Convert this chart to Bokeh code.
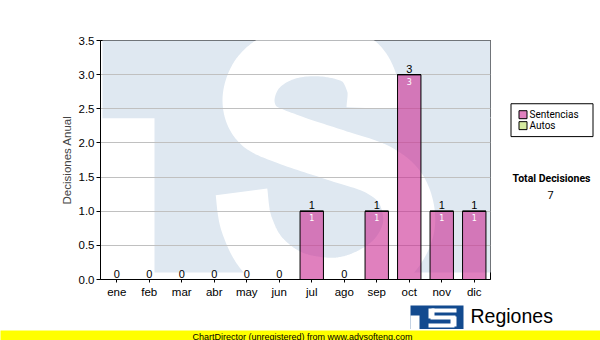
import numpy as np
from bokeh.plotting import figure
from bokeh.models import FactorRange, Range1d, FixedTicker, PrintfTickFormatter
from bokeh.layouts import column, row
from bokeh.embed import file_html
from bokeh.resources import INLINE
from bokeh.core.properties import value

# ---------------- data ----------------
months = ["ene", "feb", "mar", "abr", "may", "jun", "jul", "ago", "sep", "oct", "nov", "dic"]
sentencias = [0, 0, 0, 0, 0, 0, 1, 0, 1, 3, 1, 1]
autos = [0, 0, 0, 0, 0, 0, 0, 0, 0, 0, 0, 0]
y_ticks = [0.0, 0.5, 1.0, 1.5, 2.0, 2.5, 3.0, 3.5]
series_names = ["Sentencias", "Autos"]
y_title = "Decisiones Anual"
total_title = "Total Decisiones"
footer_text = "ChartDirector (unregistered) from www.advsofteng.com"
brand_text = "Regiones"

totals = [s + a for s, a in zip(sentencias, autos)]
grand_total = sum(totals)

# ---------------- styles ----------------
PINK = "#cb2b93"
GREEN = "#d6eba0"
WM = "#dfe8f1"
LOGO = "#124a8f"
AX_FONT = "Liberation Sans"
UI_FONT = "Roboto"

FL, FR, FT, FB = 100, 490, 40, 280
YMAX = y_ticks[-1]


def bare(width, height, x0, x1, y0, y1, bg="white"):
    f = figure(width=width, height=height, output_backend="svg", toolbar_location=None,
               x_range=Range1d(x0, x1), y_range=Range1d(y0, y1), min_border=0,
               x_axis_location=None, y_axis_location=None)
    f.background_fill_color = bg
    f.border_fill_color = bg
    f.outline_line_color = None
    f.xgrid.visible = False
    f.ygrid.visible = False
    return f


# ---------------- main chart ----------------
p = figure(x_range=FactorRange(factors=months), y_range=Range1d(0, YMAX),
           width=FR + 1, height=300, output_backend="svg", toolbar_location=None,
           min_border_left=FL, min_border_right=1,
           min_border_top=FT, min_border_bottom=300 - FB)
p.background_fill_color = "white"
p.border_fill_color = "white"
p.outline_line_color = "black"
p.outline_line_width = 1


def X(px):
    return (px - FL) / (FR - FL) * len(months)


def Y(py):
    return (FB - py) / (FB - FT) * YMAX


# watermark logo behind the plot
p.quad(left=[X(102)], right=[X(496)], top=[Y(34)], bottom=[Y(118)],
       fill_color=WM, line_color=None, level="image")
p.quad(left=[X(154)], right=[X(496)], top=[Y(117)], bottom=[Y(273)],
       fill_color=WM, line_color=None, level="image")

spine = [(372, 108), (372, 85), (357, 60), (322, 50), (285, 54), (258, 72), (248, 100),
         (258, 125), (290, 140), (335, 155), (378, 170), (402, 192), (408, 228),
         (388, 262), (345, 283), (297, 279), (263, 256), (246, 224), (241, 192)]


def catmull(pts, n=14):
    out = []
    for i in range(len(pts) - 1):
        p0 = np.array(pts[max(i - 1, 0)], float)
        p1 = np.array(pts[i], float)
        p2 = np.array(pts[i + 1], float)
        p3 = np.array(pts[min(i + 2, len(pts) - 1)], float)
        for t in np.linspace(0, 1, n, endpoint=False):
            t2, t3 = t * t, t * t * t
            pt = 0.5 * ((2 * p1) + (-p0 + p2) * t + (2 * p0 - 5 * p1 + 4 * p2 - p3) * t2
                        + (-p0 + 3 * p1 - 3 * p2 + p3) * t3)
            out.append(pt)
    out.append(np.array(pts[-1], float))
    return out


curve = catmull(spine)
p.line([X(c[0]) for c in curve], [Y(c[1]) for c in curve], line_width=52,
       line_color="white", line_cap="butt", line_join="round", level="image")

# bars
bars = p.vbar(x=months, top=sentencias, width=0.72, fill_color=PINK, fill_alpha=0.6,
              line_color="black", line_width=1)
autos_r = p.vbar(x=months, bottom=sentencias, top=totals, width=0.72, fill_color=GREEN,
                 line_color="black", line_width=1)

p.text(x=months, y=totals, text=[str(v) for v in totals], text_align="center",
       text_baseline="bottom", y_offset=-2, text_font=value(AX_FONT),
       text_font_size="11px", text_color="black")

inner_x = [m for m, s in zip(months, sentencias) if s > 0]
inner_y = [s for s in sentencias if s > 0]
p.text(x=inner_x, y=inner_y, text=[str(v) for v in inner_y], text_align="center",
       text_baseline="top", y_offset=3, text_font=value("DejaVu Sans"),
       text_font_size="8px", text_color="white")

# axes / grid
p.xgrid.visible = False
p.ygrid.grid_line_color = "#c0c0c0"
p.ygrid.grid_line_width = 1
p.yaxis.ticker = FixedTicker(ticks=y_ticks)
p.yaxis.formatter = PrintfTickFormatter(format="%.1f")
p.yaxis.minor_tick_line_color = None
p.yaxis.major_tick_in = 0
p.yaxis.major_tick_out = 4
p.yaxis.major_label_standoff = 2
p.yaxis.axis_label = y_title
p.yaxis.axis_label_standoff = 3
p.yaxis.axis_label_text_font = AX_FONT
p.yaxis.axis_label_text_font_size = "11.5px"
p.yaxis.axis_label_text_font_style = "normal"
p.xaxis.major_tick_in = 0
p.xaxis.major_tick_out = 3
p.xaxis.major_label_standoff = 3
for ax in (p.xaxis, p.yaxis):
    ax.axis_line_color = "black"
    ax.major_tick_line_color = "black"
    ax.major_label_text_font = AX_FONT
    ax.major_label_text_font_size = "11.5px"
    ax.major_label_text_color = "black"

# ---------------- right panel: legend + total ----------------
# (its frame is aligned with the main plot's frame, i.e. canvas rows FT..FB)
r = bare(600 - FR - 1, 300, FR + 1, 600, FB, FT)
r.quad(left=[510.5], right=[592.5], top=[103.5], bottom=[136.5], fill_color="white",
       line_color="black", line_width=1)
r.quad(left=[518.5, 518.5], right=[526.5, 526.5], top=[110.5, 121.5], bottom=[118.5, 129.5],
       fill_color=[PINK, GREEN], fill_alpha=[0.6, 1.0], line_color="black", line_width=1)
r.text(x=[529, 529], y=[114.5, 125.5], text=series_names, text_align="left",
       text_baseline="middle", text_font=value(UI_FONT), text_font_size="10px",
       text_color="black")
r.text(x=[551], y=[179], text=[total_title], text_align="center", text_baseline="middle",
       text_font=value(UI_FONT), text_font_style="bold", text_font_size="10.5px",
       text_color="black")
r.text(x=[550], y=[195], text=[str(grand_total)], text_align="center",
       text_baseline="middle", text_font=value(UI_FONT), text_font_size="11px",
       text_color="black")

# ---------------- bottom band: brand logo ----------------
b = bare(600, 29, 0, 600, 329, 300)
logo_l = [410, 410, 431, 428, 430, 450, 428]
logo_r = [463, 419, 456, 434, 455, 456, 454]
logo_t = [305, 315, 308, 308, 315, 316, 323]
logo_b = [331, 331, 312, 318, 319, 326, 327]
logo_c = [LOGO] + ["white"] * 6
b.quad(left=logo_l, right=logo_r, top=logo_t, bottom=logo_b, fill_color=logo_c,
       line_color=None)
b.text(x=[470], y=[315], text=[brand_text], text_align="left", text_baseline="middle",
       text_font=value(AX_FONT), text_font_size="19.5px", text_color="black")

# ---------------- footer strip ----------------
f = bare(600, 11, 0, 600, 340, 329, bg="#ffff00")
f.text(x=[302], y=[335], text=[footer_text], text_align="center", text_baseline="middle",
       text_font=value(AX_FONT), text_font_size="9px", text_color="black")

layout = column(row(p, r, spacing=0), b, f, spacing=0)
open("out.html", "w").write(file_html(layout, INLINE))
